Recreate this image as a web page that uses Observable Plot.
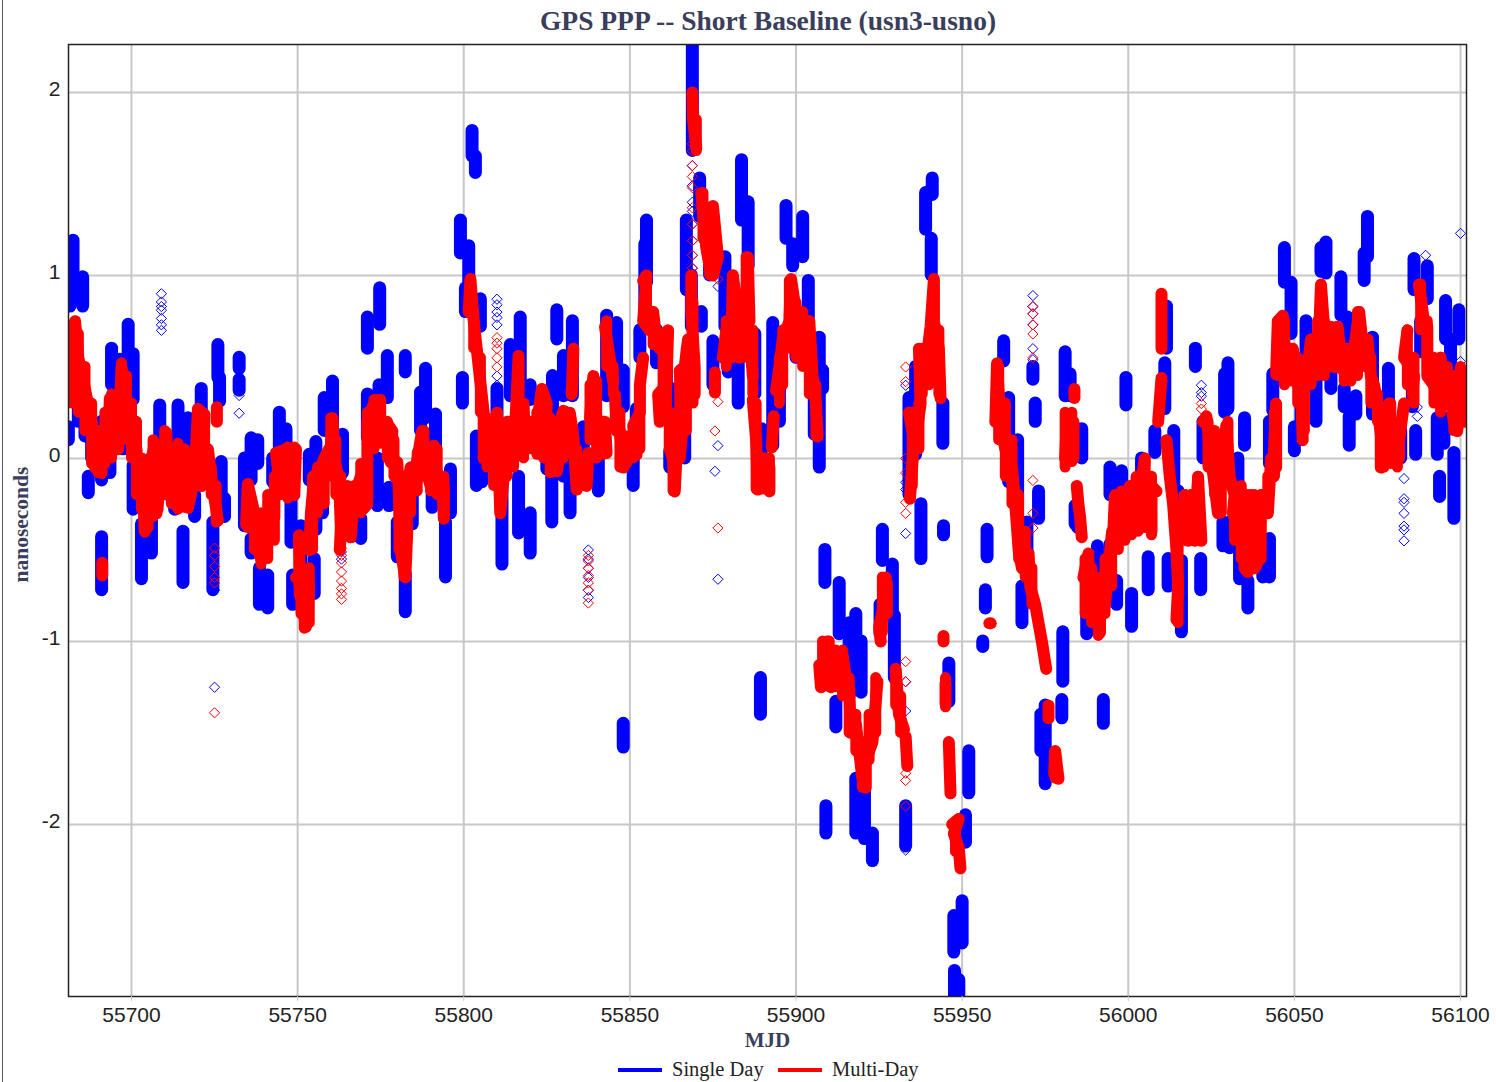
<!DOCTYPE html>
<html><head><meta charset="utf-8">
<style>
html,body{margin:0;padding:0;background:#fff;width:1496px;height:1082px;overflow:hidden}
#edge{position:absolute;left:2px;top:0;width:1px;height:1082px;background:#556}
#title{height:36px;text-align:center;font:bold 27.5px/42px "Liberation Serif";color:#3a3e5c;padding-left:40px;white-space:nowrap;width:1456px}
#legend{position:absolute;top:1051px;left:0;width:1496px;height:31px;font:20.5px "Liberation Serif";color:#222}
#legend span{position:absolute;top:7px;white-space:nowrap}
#legend i{position:absolute;top:17px;height:4px;width:44px}
</style>
<script src="https://cdn.jsdelivr.net/npm/d3@7"></script>
<script src="https://cdn.jsdelivr.net/npm/@observablehq/plot@0.6"></script>
</head><body>
<div id="edge"></div>
<div id="title">GPS PPP -- Short Baseline (usn3-usno)</div>
<div id="chart"></div>
<div id="legend"><i style="left:618px;background:#0000ff"></i><span style="left:672px">Single Day</span><i style="left:778px;background:#ff0000"></i><span style="left:832px">Multi-Day</span></div>
<script>
const xTicks = [55700,55750,55800,55850,55900,55950,56000,56050,56100];
const yTicks = [-2,-1,0,1,2];

// single-day runs: [mjd, high, low]
const singleRunsA = [
[55682.4,1.19,.86],[55681.5,1.1,.83],[55685.3,.99,.83],[55681,.17,.1],[55684,.34,.2],[55686,.28,.12],[55688,.2,0],[55689,.1,0],
[55687,-.1,-.19],[55691,-.43,-.72],[55691,.2,-.12],[55693.5,.02,-.08],[55694,.6,.4],[55696.5,.54,.4],[55699,.73,.34],[55700.5,.57,.32],
[55697.5,.1,.05],[55700.5,-.04,-.28],[55703,-.36,-.66],[55704.5,-.37,-.5],[55706,0,-.52],[55708.5,.29,-.05],[55714,.29,-.1],[55717,.22,-.05],
[55715.5,-.4,-.68],[55713,-.18,-.28],[55721,.38,-.03],[55719,-.2,-.32],[55726,.62,.44],[55726.5,.44,.31],[55727,-.02,-.32],[55728,-.22,-.32],
[55724.5,-.35,-.72],[55732.4,.55,.49],[55732.4,.43,.37],[55734,0,-.15],[55736,.11,-.12],[55738,.1,-.03],[55734,-.15,-.37],[55736,-.44,-.52],
[55738.5,-.6,-.8],[55741,-.64,-.82],[55744.5,.25,-.12],[55742.5,0,-.13],[55746.5,.16,0],[55748,-.22,-.46],[55751,-.37,-.57],[55748.5,-.64,-.8],
[55753.5,.02,-.12],[55755.5,.09,-.39],[55755,-.55,-.74],[55758,.33,.15],[55760.5,.42,.15],[55763.5,.13,-.08],[55757.5,-.07,-.3],[55769,-.33,-.44],
[55766,-.35,-.43],[55771,.35,.11],[55771,.77,.6],[55774.7,.93,.73],[55777,.56,.33],[55774.5,.4,.3],[55774,0,-.26],[55777.5,-.16,-.26],
[55782.4,.56,.47],[55787,.36,.15],[55788.5,.49,.22],[55791.5,.24,0],[55782.4,-.63,-.84],[55780,-.35,-.54],[55784.5,-.18,-.36],[55790.5,-.2,-.27],
[55796,-.06,-.3],[55794.5,-.35,-.65],[55799,1.3,1.12],[55801.5,1.16,.82],[55799.6,.44,.3],[55803.8,.12,-.15]
];
const singleRunsB = [
[55802.5,1.79,1.65],[55803.5,1.65,1.56],[55800.5,.93,.8],[55805,.87,.72],[55805.5,.1,-.13],[55810,.38,-.07],[55811.5,-.08,-.58],[55816.5,-.1,-.41],
[55814,.62,.34],[55817,.77,.42],[55820,-.3,-.52],[55820,.4,.32],[55828,.81,.65],[55826.7,.45,.24],[55825,.2,-.06],[55826.5,.07,-.35],
[55832.7,.75,.34],[55830,.56,.34],[55832,.04,-.3],[55830,.06,-.1],[55836,.17,-.04],[55840.5,.1,-.18],[55843,.78,.34],[55846,.74,.34],
[55848,.48,.28],[55851,.03,-.15],[55852,.27,.14],[55853,.7,.55],[55855,1.3,.96],[55854.5,1.17,.72],[55858,.7,.52],[55861,.5,.32],
[55862.5,.38,.3],[55862,.04,-.05],[55866.5,.24,0],[55867,1.3,.92],[55868.8,2.3,1.68],[55871,1.53,1.32],[55874,1.36,1],[55871.5,.8,.72],
[55868.5,1,.72],[55878.6,1.1,.72],[55875,.64,.4],[55883.6,1.63,1.3],[55885.6,1.4,1.05],[55879.6,.52,.47],[55882.6,.53,.3],[55887.6,.68,.35],
[55889.6,.16,.04],[55897,1.38,1.2],[55899,1.17,1.05],[55902,1.32,1.1],[55903.7,.97,.73],[55893,.74,.07],[55895,.44,.2],[55900,.67,.55],
[55907,.66,-.05],[55908,.48,.38],[55905.5,.55,.13],[55889.3,-1.2,-1.4]
];
const singleRunsC = [
[55848,-1.45,-1.58],[55908.7,-.5,-.68],[55913,-.68,-.96],[55916,-.9,-1.3],[55918,-.85,-1.1],[55919.6,-1,-1.28],[55912,-1.33,-1.47],[55909,-1.9,-2.05],[55918,-1.75,-2.05],
[55920.6,-1.78,-2.08],[55923,-2.05,-2.2],[55926,-.39,-.56],[55929,-.58,-.87],[55925.3,-.8,-.96],[55929.6,-.86,-1.2],[55933,-1.9,-2.12],[55934,.33,-.2],
[55936,.5,.02],[55937.6,-.25,-.55],[55944.4,-.37,-.42],[55940.7,1.2,1],[55939,1.45,1.25],[55941,1.53,1.44],[55944.2,.3,.08],[55946,-1.12,-1.33],
[55952,-1.6,-1.83],[55951,-1.95,-2.1],[55947.5,-2.5,-2.7],[55950,-2.42,-2.65],[55947.7,-2.8,-2.95],[55949,-2.85,-3],[55957.5,-.39,-.54],[55957,-.72,-.82],
[55956.2,-1,-1.03],[55962.5,.64,.53],[55964,.33,-.13],[55966.7,.1,-.2],[55971.3,.5,.43],[55972,.3,.2],[55973,-.18,-.33],[55968,-.7,-.9],
[55969.5,-.35,-.6],[55975,-1.35,-1.78],[55973.7,-1.4,-1.6],[55980.3,-.95,-1.22],[55980,-1.32,-1.42],[55981,.58,.34],[55982.5,.46,.34],[55986,.16,0],
[55984,-.26,-.36],[55984.8,-.3,-.38],[55992.5,-1.32,-1.45]
];
const singleRunsD = [
[55990.7,-.48,-.6],[55987.5,-.84,-.96],[55994.5,-.47,-.6],[55996.5,-.67,-.8],[56001,-.74,-.92],[55994.5,-.05,-.2],[55998,-.07,-.16],[55999.3,.44,.29],
[56006,-.54,-.72],[56012,-.55,-.7],[56016,-.56,-.95],[56021.8,-.55,-.72],[56008,.15,.03],[56004,0,-.14],[56011,.52,.27],[56011.5,.83,.6],
[56013.7,.15,-.2],[56015,-.18,-.4],[56020.2,.6,.5],[56030,.52,.27],[56029,.46,.25],[56035,.22,.07],[56022.5,.2,0],[56033,0,-.25],
[56028.5,-.35,-.48],[56030.5,-.35,-.49],[56033.5,-.45,-.66],[56036,-.67,-.82],[56040.5,-.44,-.65],[56042.5,-.44,-.65],[56050,.17,.04],[56042.5,.2,-.03],
[56043.5,.46,.26],[56047,1.15,.96],[56049,.96,.68],[56059.5,1.18,1.01],[56058,1.15,1.02],[56064,.99,.78],[56072,1.32,1.1],[56071,1.12,.97],
[56053.5,.75,.44],[56052,.3,.15],[56056.5,.66,.2],[56061,.58,.38],[56065,.38,.28],[56068.5,.34,.24],[56066.5,.23,.07],[56066,.77,.64],
[56073.5,.66,.24],[56078.3,.49,.26],[56076.5,.26,-.03],[56082,.15,0],[56086,1.09,.92],[56090,1.05,.87],[56088,.75,.58],[56095.5,.86,.65],
[56099.5,.81,.65],[56097,.65,.4],[56086.5,.15,.02],[56093.7,-.1,-.21],[56098,.03,-.33],[56093,.22,.02],[56095,.22,.08],[56085.5,.44,.28]
];

// multi-day traces: lists of [mjd, value]
const multiRunsA = [
[[55681,.33],[55681.5,.62],[55683,.75],[55684,.55],[55686,.38],[55688,.2],[55689,-.05],[55691,-.08],[55691,.1],[55693,.1],[55693.5,.33],[55694.5,.1],[55696,.05],[55697,.5],[55698,.3],[55700,.15],[55701.5,.05],[55702,-.15],[55703,-.15],[55703,0],[55704,-.4],[55705,-.1],[55707,.08],[55707.5,-.3],[55709,-.1],[55710.5,.14],[55711,-.2],[55713,-.22],[55714,.07],[55715,-.22],[55717,-.02],[55717,-.27],[55719,-.1],[55720,.27],[55722,.24],[55721,-.15],[55723,.05],[55724,-.1],[55726,-.34]],
[[55725.7,.28],[55725.7,.2]],
[[55691.2,-.57],[55691.2,-.64]],
[[55734.5,-.36],[55735,-.14],[55737,-.3],[55737.5,-.45],[55739,-.55],[55740,-.5],[55741,-.3],[55743,-.32],[55743,-.2],[55744.5,-.12],[55743.5,.03],[55746.5,.05],[55749.5,.05],[55749,-.2],[55746.5,-.15],[55744,-.2],[55745,-.05],[55747,0],[55749,-.1]],
[[55750.4,-.42],[55750.6,-.7],[55752.5,-.92],[55753.5,-.7],[55753,-.65],[55749.5,-.65]],
[[55753.5,-.5],[55754,-.3],[55755,-.1],[55757,-.05],[55758,0],[55760,.07],[55760.5,.22],[55761,0],[55762.5,-.12],[55763,-.38],[55762.7,-.5],[55763.5,-.2],[55765,-.3],[55766,-.43],[55767,-.2],[55770,-.05],[55769.5,-.28],[55771,-.25],[55771,0],[55771,.2],[55773,.3],[55774,.32],[55773,.1],[55771,.08],[55775,.15],[55777,.19],[55778.5,.15],[55778,-.02],[55780,-.02],[55780.5,-.2],[55781,-.5],[55782.4,-.65],[55783,-.4],[55782.5,-.2],[55784,-.05],[55785,-.12],[55787,.1],[55787.5,.15],[55788.5,-.05],[55790,-.15],[55791,.07],[55792,-.1],[55794,-.15],[55794,-.33],[55793.5,-.1]]
];
const multiRunsB = [
[[55801.5,.8],[55802,.98],[55803,.75],[55804.5,.5],[55806,.25],[55806,0],[55806.5,.22],[55808,-.02],[55810,.25],[55811,-.3],[55812,-.1],[55813.5,.2],[55813.5,0],[55815,0],[55816.5,.56],[55816.5,.22],[55818,.3],[55818.5,.05],[55821,.1],[55822.5,.25],[55823.5,.38],[55825,.3],[55824.5,.1],[55827,0],[55828,-.07],[55829,.04],[55829,.2],[55830,.26],[55832,.24],[55833,.12],[55833.5,-.03],[55834,-.17],[55834.5,-.05],[55837,0],[55837,-.15],[55837.5,.03]],
[[55833,.6],[55832.5,.35]],
[[55838,.22],[55839,.45],[55840,.2],[55841,.03],[55842.5,.2],[55843,.03]],
[[55842.5,.72],[55843.5,.6],[55845,.42]],
[[55845.5,.35],[55846,.15],[55847,.15],[55848,-.05],[55850,.1],[55852,.02],[55851,.18],[55853,.25],[55853,.4],[55854,.55]],
[[55854,.97],[55855,1],[55854,.75],[55856,.7],[55857,.8],[55858,.65],[55859,.6],[55860,.68],[55861.5,.7],[55861,.4],[55858.5,.35],[55859,.2]],
[[55862,.25],[55862,.05],[55863,0],[55863.5,-.18],[55864,0],[55865,0],[55866,.2],[55865,.48],[55866.5,.5],[55867.5,.65],[55867,.35],[55869.5,.35],[55869.5,.5],[55868.5,.8],[55868.5,1]],
[[55868.8,2],[55869,1.85],[55870,1.7]],
[[55871.5,1.45],[55873,1.15],[55874,1.05],[55875,1.25],[55875,1.38],[55876.5,1.1],[55875,1]],
[[55875.6,.47],[55875.6,.36]],
[[55878,.55],[55879,.7],[55880,.75],[55880.5,.55],[55881,1],[55882,.85],[55882,.62],[55883,.55],[55884.5,.6],[55885.5,1.1],[55886,.75],[55884.5,.75],[55886,.7],[55887,.45]],
[[55887,.32],[55888,.1],[55888.5,-.17],[55890,0],[55891,0],[55892,-.18],[55892,-.05]],
[[55893.3,.23],[55892.7,.06]],
[[55894,.37],[55895,.5],[55896,.65],[55898,.75],[55898.5,.98],[55900,.8],[55902,.75],[55903,.55],[55904,.75],[55905,.45],[55906,.3],[55906.5,.12]]
];
const multiRunsC = [
[[55907,-1.13],[55907.5,-1.25],[55909,-1.08],[55909.5,-1],[55910.5,-1.25],[55912,-1.15],[55914,-1.07],[55915,-1.2],[55916,-1.25],[55916.5,-1.5],[55918,-1.45],[55919,-1.6],[55920,-1.75],[55921,-1.65],[55923,-1.55],[55924.5,-1.22]],
[[55921,-1.8],[55921,-1.6]],
[[55927,-.65],[55926.5,-.8],[55925,-.92],[55925.5,-1]],
[[55930,-1.15],[55931,-1.4],[55932.5,-1.48]],
[[55933,-1.52],[55933.5,-1.68]],
[[55934.3,-.22],[55935.5,.1],[55934,.25],[55936,.2],[55936,.1],[55937.5,.3],[55937,.6],[55939,.5],[55940.5,.72],[55941.5,.98],[55941.5,.75],[55943,.6],[55943.5,.33]],
[[55945,-1.23],[55945,-1.34]],
[[55944.4,-.97],[55944.4,-1]],
[[55946,-1.55],[55946.5,-1.83]],
[[55947,-2],[55949,-1.97],[55947.5,-2.05],[55949,-2.13],[55949.5,-2.24]],
[[55958.2,-.9],[55958.6,-.9]],
[[55960,.2],[55960.5,.52],[55961.5,.2],[55963,.05],[55965,-.05],[55966,-.25],[55967,-.5],[55968,-.6],[55970,-.52],[55970.5,-.7],[55972,-.8],[55974,-1],[55975.3,-1.15]],
[[55983.8,.38],[55983.8,.33]],
[[55981.5,.2],[55983.5,.2],[55983.5,0],[55981,0],[55981.5,.2],[55982.5,.1]],
[[55984.5,-.15],[55985,-.25],[55985.5,-.32],[55986,-.43]],
[[55976,-1.35],[55976,-1.42]],
[[55978,-1.6],[55979,-1.75],[55977.7,-1.72],[55978,-1.6]]
];
const multiRunsD = [
[[55986.5,-.65],[55988,-.52],[55988,-.8],[55989,-.68],[55990,-.8],[55991.5,-.95],[55991.5,-.65],[55993,-.7],[55994,-.55],[55993,-.8],[55995,-.42],[55995.5,-.4],[55996,-.2],[55997.5,-.45],[55998,-.18],[56000,-.4],[56000.5,-.15],[56002.5,-.38],[56002.5,-.1],[56004,-.12],[56005,0],[56004.5,-.2],[56005,-.25],[56006,-.1],[56007,-.4],[56007,-.15],[56008.5,-.18]],
[[56010,.9],[56010,.6]],
[[56010,.44],[56009,.2]],
[[56011.5,.1],[56012.5,-.1],[56013.5,-.25],[56014.5,-.5],[56015,-.7],[56014.5,-.88]],
[[56016,-.4],[56017,-.2],[56018,-.45],[56019,-.2],[56020,-.45],[56021,-.1],[56022,-.45]],
[[56022.5,.2],[56023.5,.23],[56025,0],[56026,-.15],[56027,-.3],[56028,-.1],[56029.5,.18],[56030.5,-.1],[56032,-.2],[56031.5,-.3],[56033,-.38],[56034,-.18],[56035,-.6],[56036,-.62],[56037,-.2],[56038,-.6],[56039.5,-.55],[56040,-.2],[56042,-.2],[56042,-.3],[56043,0],[56043.5,-.1],[56044.5,.3],[56044.5,-.05]],
[[56044.5,.46],[56045,.75],[56046.5,.78],[56047.5,.5],[56049.5,.6],[56050.5,.5],[56051,.4],[56052,.4],[56052.5,.1],[56052,.38],[56054,.5],[56055,.65],[56056.5,.55],[56057.5,.7],[56058,.95],[56059,.7],[56060,.5],[56061,.7],[56062,.5],[56063,.72],[56064,.55],[56063.5,.5],[56065,.48],[56066,.6],[56067.5,.45],[56068,.6],[56069.5,.8],[56071,.55],[56072,.65],[56073,.45],[56074,.4],[56075,.3],[56075.5,.22],[56076,.12],[56076,-.05],[56077.5,.05],[56078.5,.3],[56079,.05],[56080,0],[56081.5,0],[56081.5,.1],[56083,.3]],
[[56084,.7],[56083,.55],[56085,.5],[56086,.45],[56085.5,.35]],
[[56087.5,.95],[56089,.75],[56090,.72],[56090,.65],[56090,.45],[56092,.4],[56093,.35],[56094,.55],[56095,.35],[56096,.45],[56098,.2],[56099,.15],[56100,.3],[56101,.4],[56101,.2]]
];

// daily spread of the multi-day series: [mjd, high, low]
const multiSpreadA = [
[55682,.7,.3],[55684,.68,.25],[55686,.5,.15],[55688,.3,-.03],[55690,.15,-.08],[55692,.25,-.03],[55694,.35,0],[55696,.3,.05],[55697,.52,.15],[55698.5,.45,.1],[55700,.3,0],[55701.5,.2,-.2],[55703,0,-.28],[55705,-.02,-.38],[55706.5,.1,-.32],[55708,.05,-.28],[55710,.15,-.2],[55712,0,-.25],[55714,.08,-.28],[55716,.05,-.27],[55718,0,-.2],[55720,.27,-.15],[55722,.22,-.1],[55724,-.05,-.2],[55725.5,-.15,-.35],
[55735,-.15,-.38],[55737,-.3,-.5],[55739,-.3,-.58],[55741,-.2,-.55],[55743,-.1,-.45],[55745,.03,-.2],[55747,.06,-.22],[55749,.06,-.2],
[55750.5,-.45,-.75],[55752,-.75,-.93],[55753.5,-.6,-.9],[55751,-.6,-.85],[55754.5,-.1,-.5],[55756,-.05,-.3],[55758,0,-.25],[55760,.22,-.1],[55761.5,.1,-.2],[55763,-.1,-.42],[55765,-.15,-.35],[55767,-.15,-.3],[55769,-.03,-.3],
[55771,.25,.1],[55773,.32,.05],[55775,.32,.08],[55777,.2,0],[55779,.1,-.1],[55780.5,-.1,-.5],[55782,-.3,-.65],[55784,-.05,-.3],[55786,.03,-.18],[55788,.15,-.1],[55790,.05,-.18],[55792,.05,-.2],[55794,-.1,-.33]
];
const multiSpreadB = [
[55803,.8,.6],[55805,.55,.25],[55807,.22,-.05],[55809,.2,-.15],[55811,.2,-.3],[55813,.2,-.1],[55815,.15,-.05],[55816.5,.56,.1],[55818,.25,0],[55820,.2,.05],[55822,.25,.02],[55824,.35,0],[55826,.22,-.08],[55828,.15,-.07],[55830,.22,0],[55832,.25,.1],[55834,.05,-.17],[55836,0,-.15],
[55838,.4,.1],[55840,.42,0],[55842,.2,.02],[55843,.75,.5],[55845,.5,.35],[55847,.25,-.05],[55849,.12,-.03],[55851,.15,0],[55853,.4,.05],[55855,1,.75],[55857,.8,.62],[55860,.68,.35],[55861,.65,.2],
[55863,.2,-.18],[55865,.45,0],[55867,.6,.15],[55869,.85,.3],[55870,1.85,1.68],[55872,1.45,1.2],[55874,1.2,1],[55879,.75,.5],[55881,1,.55],[55883,.8,.55],[55885,1.1,.55],[55887,.7,.35],
[55888,.3,-.17],[55890,0,-.17],[55892,0,-.18],[55895,.55,.3],[55896,.7,.4],[55898,.97,.6],[55900,.85,.55],[55902,.8,.5],[55904,.75,.35],[55906,.4,.12]
];
const multiSpreadC = [
[55908,-1,-1.25],[55910,-1,-1.25],[55912,-1.05,-1.25],[55914,-1.05,-1.3],[55916,-1.2,-1.5],[55918,-1.4,-1.6],[55920,-1.55,-1.8],[55922,-1.4,-1.65],[55924,-1.2,-1.5],[55926,-.65,-.95],[55927.5,-.68,-.85],[55930,-1.15,-1.35],[55931.5,-1.3,-1.5],
[55935,.25,-.15],[55937,.3,.05],[55938,.6,.35],[55940,.6,.4],[55941.5,.95,.6],[55943,.7,.35],[55945,-1.2,-1.36],[55948,-2,-2.15],[55961,.5,.1],[55963,.3,-.1],[55965,.1,-.25],[55967,-.2,-.55],[55969,-.4,-.65],[55971,-.6,-.8],[55981,.25,-.05],[55983,.25,-.02],[55978,-1.6,-1.75]
];
const multiSpreadD = [
[55987,-.55,-.85],[55989,-.6,-.9],[55991,-.7,-.97],[55993,-.55,-.85],[55995,-.4,-.7],[55997,-.2,-.5],[55999,-.2,-.45],[56001,-.15,-.42],[56003,-.1,-.4],[56005,-.02,-.38],[56007,-.1,-.42],[56015,-.4,-.9],[56017,-.2,-.45],[56019,-.2,-.45],[56021,-.1,-.45],
[56024,.2,-.05],[56026,.15,-.2],[56028,0,-.3],[56030,.2,-.1],[56032,-.15,-.45],[56034,-.15,-.55],[56036,-.2,-.62],[56038,-.2,-.6],[56040,-.2,-.55],[56042,-.1,-.3],[56044,.25,-.1],
[56045,.75,.45],[56047,.75,.4],[56049,.6,.42],[56051,.55,.3],[56053,.4,.15],[56055,.65,.4],[56057,.75,.45],[56059,.75,.45],[56061,.72,.5],[56063,.72,.5],[56065,.55,.42],[56067,.55,.42],[56069,.8,.45],[56071,.65,.5],[56073,.55,.3],[56075,.35,.2],
[56077,.15,-.05],[56079,.3,-.03],[56081,.15,-.05],[56084,.7,.4],[56086,.55,.3],[56088,.95,.7],[56090,.75,.5],[56092,.55,.3],[56094,.55,.25],[56096,.5,.3],[56098,.45,.15],[56100,.5,.2],[56101,.45,.2]
];

// isolated open markers: [mjd, value]
const singleDots = [
[55709,.9],[55709,.855],[55709,.83],[55709,.81],[55709,.765],[55709,.73],[55709,.7],[55725,-1.25],[55725,-.72],[55732.4,.344],[55732.4,.247],
[55763.3,.07],[55763.3,.02],[55763.3,-.02],[55763.3,-.05],[55763.2,-.51],[55763.2,-.55],
[55810,.87],[55810,.84],[55810,.8],[55810,.77],[55810,.73],[55810,.45],[55810,.4],[55810,.35],[55810,.3],[55810,.27],
[55837.5,-.5],[55837.5,-.55],[55837.5,-.6],[55837.5,-.65],[55837.5,-.72],[55837.5,-.76],
[55868.8,1.6],[55868.8,1.49],[55868.8,1.4],[55868.8,1.35],[55868.8,1.28],[55868.8,1.19],[55868.8,1.11],[55868.8,1.04],
[55876.5,.94],[55876.5,.07],[55876.5,-.66],[55875.6,-.07],
[55933,.4],[55933,-.13],[55933,-.17],[55933,-.41],[55933,-1.22],[55933,-1.38],[55933,-2.14],
[55971.3,.89],[55971.3,.83],[55971.3,.79],[55971.3,.73],[55971.3,.6],[55971.3,.54],
[56022,.4],[56022,.36],[56022,.34],[56083,-.11],[56083,-.22],[56083,-.24],[56083,-.3],[56083,-.37],[56083,-.39],[56083,-.45],
[56087,.28],[56087,.23],[56089.5,1.11],[56100,1.23],[56100,.53]
];
const multiDots = [
[55725,-.49],[55725,-.53],[55725,-.59],[55725,-.65],[55725,-.68],[55725,-1.39],
[55763.2,-.49],[55763.2,-.53],[55763.2,-.57],[55763.2,-.62],[55763.2,-.67],[55763.2,-.71],[55763.2,-.74],[55763.2,-.77],
[55810,.66],[55810,.63],[55810,.6],[55810,.55],[55810,.5],
[55837.5,-.53],[55837.5,-.56],[55837.5,-.6],[55837.5,-.64],[55837.5,-.68],[55837.5,-.72],[55837.5,-.79],
[55868.8,1.72],[55868.8,1.68],[55868.8,1.6],[55868.8,1.54],[55868.8,1.48],[55868.8,1.37],[55868.8,1.28],[55868.8,1.19],[55868.8,1.11],[55868.8,1.04],
[55876.5,.98],[55876.5,.31],[55876.5,-.38],[55875.6,.15],
[55933,.5],[55933,.42],[55933,0],[55933,-.08],[55933,-.24],[55933,-.3],[55933,-1.11],[55933,-1.22],[55933,-1.72],[55933,-1.76],[55933,-1.9],
[55971.3,.83],[55971.3,.79],[55971.3,.73],[55971.3,.68],[55971.3,.55],[55971.3,-.12],[55971.3,-.3],[55971.3,-.38],
[56022,.3],[56022,.27]
];

const singleRuns = [...singleRunsA,...singleRunsB,...singleRunsC,...singleRunsD];
const multiSpread = [...multiSpreadA,...multiSpreadB,...multiSpreadC,...multiSpreadD];
const multiRows = [...multiRunsA,...multiRunsB,...multiRunsC,...multiRunsD]
  .flatMap((run,i)=>run.map(p=>({mjd:p[0],v:p[1],run:i})));

const BLUE="#0000ff", RED="#ff0000", GRID="#c8c8c8";
const chart = Plot.plot({
  width:1496, height:1015,
  marginTop:8, marginBottom:55, marginLeft:68, marginRight:30,
  style:{fontFamily:"Liberation Sans",background:"#fff"},
  x:{domain:[55681.04,56101.8]},
  y:{domain:[-2.94,2.262]},
  marks:[
    Plot.ruleX(xTicks,{stroke:GRID,strokeWidth:2}),
    Plot.ruleY(yTicks,{stroke:GRID,strokeWidth:2}),
    Plot.dot(singleDots,{x:d=>d[0],y:d=>d[1],symbol:"diamond2",r:4.6,stroke:BLUE,strokeWidth:1,fill:"none"}),
    Plot.ruleX(singleRuns,{x:d=>d[0],y1:d=>d[1],y2:d=>d[2],stroke:BLUE,strokeWidth:13,strokeLinecap:"round",clip:true}),
    Plot.dot(multiDots,{x:d=>d[0],y:d=>d[1],symbol:"diamond2",r:4.6,stroke:RED,strokeWidth:1,fill:"none"}),
    Plot.ruleX(multiSpread,{x:d=>d[0],y1:d=>d[1],y2:d=>d[2],stroke:RED,strokeWidth:11,strokeLinecap:"round",clip:true}),
    Plot.line(multiRows,{x:"mjd",y:"v",z:"run",stroke:RED,strokeWidth:12,strokeLinejoin:"round",strokeLinecap:"round",curve:"linear",clip:true}),
    Plot.frame({stroke:"#222",strokeWidth:1.5}),
    Plot.axisX({ticks:xTicks,tickFormat:d=>String(d),label:null,fontSize:21,tickSize:5,tickPadding:6,stroke:GRID,color:"#222"}),
    Plot.axisY({ticks:yTicks,tickFormat:d=>String(d),label:null,fontSize:21,tickSize:0,tickPadding:8,color:"#222",textAnchor:"end",dy:-3}),
    Plot.text(["MJD"],{frameAnchor:"bottom",dy:50,dx:0,fontFamily:"Liberation Serif",fontWeight:"bold",fontSize:21,fill:"#3a3e5c"}),
    Plot.text(["nanoseconds"],{frameAnchor:"left",dx:-47,dy:62,rotate:-90,fontFamily:"Liberation Serif",fontWeight:"bold",fontSize:21.5,fill:"#3a3e5c"})
  ]
});
document.getElementById("chart").appendChild(chart);
</script>
</body></html>
